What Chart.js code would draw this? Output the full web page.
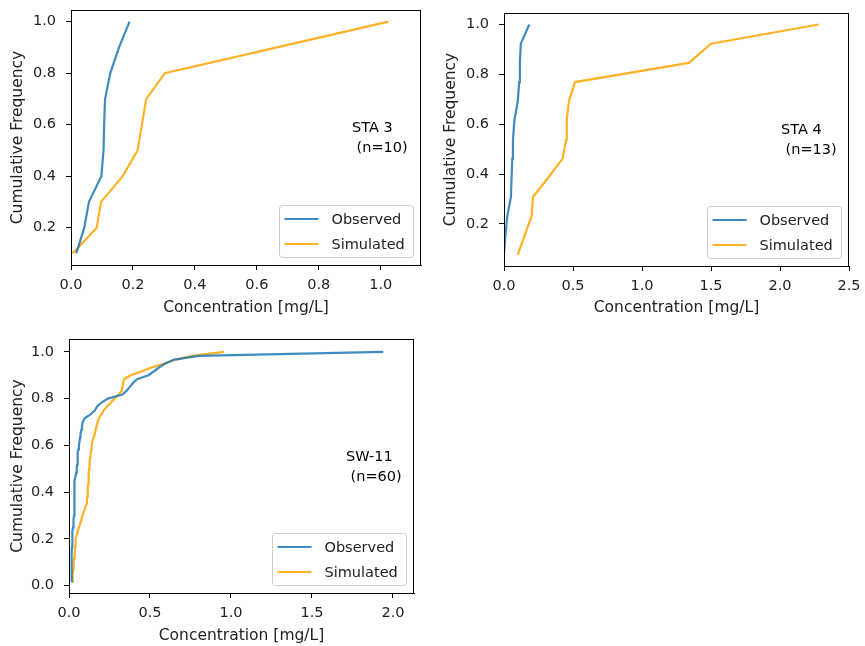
<!DOCTYPE html>
<html>
<head>
<meta charset="utf-8">
<script src="https://cdn.jsdelivr.net/npm/chart.js@4.4.1/dist/chart.umd.min.js"></script>
<style>
  body { margin: 0; background: #fff; }
  #page { position: relative; width: 865px; height: 646px; overflow: hidden; background: #fff; }
  #page canvas { position: absolute; }
</style>
</head>
<body>
<div id="page">
  <canvas id="sta3" width="440" height="320" style="left:0px;top:0px;width:440px;height:320px"></canvas>
  <canvas id="sta4" width="425" height="320" style="left:440px;top:0px;width:425px;height:320px"></canvas>
  <canvas id="sw11" width="440" height="321" style="left:0px;top:325px;width:440px;height:321px"></canvas>
</div>
<script>
// STA 3 (n=10)
const sta3Freq = [0.1, 0.2, 0.3, 0.4, 0.5, 0.6, 0.7, 0.8, 0.9, 1.0];
const sta3Observed = [0.017, 0.043, 0.058, 0.098, 0.105, 0.107, 0.11, 0.127, 0.155, 0.189];
const sta3Simulated = [0.005, 0.083, 0.097, 0.167, 0.215, 0.229, 0.243, 0.303, 0.665, 1.025];

// STA 4 (n=13)
const sta4Freq = [0.077, 0.154, 0.231, 0.308, 0.385, 0.462, 0.538, 0.615, 0.692, 0.769, 0.846, 0.923, 1.0];
const sta4Observed = [0.0, 0.01, 0.024, 0.05, 0.055, 0.06, 0.065, 0.075, 0.1, 0.11, 0.115, 0.122, 0.183];
const sta4Simulated = [0.1, 0.15, 0.2, 0.21, 0.32, 0.425, 0.45, 0.455, 0.47, 0.515, 1.34, 1.5, 2.28];

// SW-11 (n=60)
const sw11Freq = [0.017, 0.033, 0.05, 0.067, 0.083, 0.1, 0.117, 0.133, 0.15, 0.167,
  0.183, 0.2, 0.217, 0.233, 0.25, 0.267, 0.283, 0.3, 0.317, 0.333,
  0.35, 0.367, 0.383, 0.4, 0.417, 0.433, 0.45, 0.467, 0.483, 0.5,
  0.517, 0.533, 0.55, 0.567, 0.583, 0.6, 0.617, 0.633, 0.65, 0.667,
  0.683, 0.7, 0.717, 0.733, 0.75, 0.767, 0.783, 0.8, 0.817, 0.833,
  0.85, 0.867, 0.883, 0.9, 0.917, 0.933, 0.95, 0.967, 0.983, 1.0];
const sw11Observed = [0.014, 0.015, 0.015, 0.016, 0.016, 0.017, 0.017, 0.018, 0.018, 0.019,
  0.019, 0.02, 0.021, 0.023, 0.025, 0.027, 0.029, 0.031, 0.032, 0.032,
  0.033, 0.033, 0.034, 0.034, 0.035, 0.035, 0.036, 0.04, 0.045, 0.048,
  0.05, 0.052, 0.053, 0.055, 0.057, 0.061, 0.065, 0.068, 0.071, 0.077,
  0.08, 0.085, 0.098, 0.135, 0.16, 0.175, 0.2, 0.24, 0.33, 0.355,
  0.375, 0.395, 0.42, 0.49, 0.525, 0.555, 0.595, 0.65, 0.8, 1.94];
const sw11Simulated = [0.02, 0.022, 0.024, 0.026, 0.028, 0.03, 0.032, 0.034, 0.036, 0.038,
  0.04, 0.042, 0.048, 0.055, 0.062, 0.07, 0.077, 0.083, 0.093, 0.1,
  0.108, 0.111, 0.113, 0.115, 0.117, 0.118, 0.12, 0.122, 0.123, 0.124,
  0.126, 0.128, 0.131, 0.134, 0.137, 0.14, 0.145, 0.152, 0.16, 0.165,
  0.17, 0.178, 0.186, 0.2, 0.215, 0.235, 0.26, 0.28, 0.305, 0.325,
  0.33, 0.335, 0.34, 0.38, 0.45, 0.51, 0.59, 0.66, 0.76, 0.957];

// tick labels
const xTicksSta3 = [0, 0.2, 0.4, 0.6, 0.8, 1.0];
const xTicksSta4 = [0, 0.5, 1.0, 1.5, 2.0, 2.5];
const xTicksSw11 = [0, 0.5, 1.0, 1.5, 2.0];
const yTicksFrom02 = [0.2, 0.4, 0.6, 0.8, 1.0];
const yTicksFrom00 = [0.0, 0.2, 0.4, 0.6, 0.8, 1.0];

const seriesNames = ['Observed', 'Simulated'];
const seriesColors = ['rgba(31,119,180,0.85)', 'rgba(255,165,0,0.85)'];

const FONT = 'DejaVu Sans';

// frame, station label and legend drawn on top of the plot
const decorPlugin = {
    id: 'decor',
    afterDraw(chart, args, opts) {
        const { ctx, chartArea: a } = chart;
        ctx.save();
        ctx.strokeStyle = '#000';
        ctx.lineWidth = 1;
        ctx.strokeRect(a.left + 0.5, a.top + 0.5, a.right - a.left - 1, a.bottom - a.top);

        // station label
        ctx.font = '14.5px "' + FONT + '"';
        ctx.fillStyle = '#000';
        ctx.textAlign = 'left';
        ctx.textBaseline = 'middle';
        const tx = a.left + 0.8 * (a.right - a.left) + 1;
        const ty = a.bottom - 0.535 * (a.bottom - a.top);
        opts.station.forEach((t, i) => ctx.fillText(t, tx, ty + i * 20));

        // legend, lower right
        const w = 134, h = 52;
        const bx = a.right - 7.5 - w, by = a.bottom - 7.5 - h;
        ctx.beginPath();
        ctx.roundRect(bx, by, w, h, 3);
        ctx.fillStyle = 'rgba(255,255,255,0.8)';
        ctx.fill();
        ctx.strokeStyle = '#cccccc';
        ctx.stroke();
        chart.data.datasets.forEach((ds, i) => {
            const y = by + 13.5 + i * 25;
            ctx.beginPath();
            ctx.moveTo(bx + 5, y);
            ctx.lineTo(bx + 39, y);
            ctx.strokeStyle = ds.borderColor;
            ctx.lineWidth = 2.2;
            ctx.stroke();
            ctx.fillStyle = '#222';
            ctx.fillText(ds.label, bx + 52, y + 1);
        });
        ctx.restore();
    }
};

function makeChart(id, p) {
    const points = vals => vals.map((v, i) => ({ x: v, y: p.freq[i] }));
    const series = [p.observed, p.simulated];
    return new Chart(document.getElementById(id), {
        type: 'scatter',
        data: {
            datasets: series.map((vals, i) => ({
                label: seriesNames[i],
                data: points(vals),
                showLine: true,
                borderColor: seriesColors[i],
                borderWidth: 2.2,
                pointRadius: 0,
                pointHoverRadius: 0,
                tension: 0
            }))
        },
        options: {
            responsive: false,
            animation: false,
            layout: { padding: { left: 0, right: p.padR, top: p.padT, bottom: 0 } },
            plugins: {
                legend: { display: false },
                tooltip: { enabled: false },
                decor: { station: p.station }
            },
            scales: {
                x: {
                    type: 'linear',
                    min: 0,
                    max: p.xMax,
                    afterBuildTicks: s => { s.ticks = p.xTicks.map(v => ({ value: v })); },
                    afterFit: s => {
                        s.height = p.xAxisH;
                        s.paddingLeft = 0;
                        s.paddingRight = 0;
                    },
                    ticks: {
                        color: '#222',
                        font: { family: FONT, size: 14.5 },
                        padding: 7,
                        maxRotation: 0,
                        autoSkip: false,
                        callback: v => v.toFixed(1)
                    },
                    grid: { drawOnChartArea: false, drawTicks: true, tickLength: 5, tickColor: '#000' },
                    border: { display: true, color: '#000' },
                    title: {
                        display: true,
                        text: 'Concentration [mg/L]',
                        color: '#222',
                        font: { family: FONT, size: 15.5 },
                        padding: { top: 0, bottom: p.xTitlePad }
                    }
                },
                y: {
                    type: 'linear',
                    min: p.yMin,
                    max: p.yMax,
                    afterBuildTicks: s => { s.ticks = p.yTicks.map(v => ({ value: v })); },
                    afterFit: s => {
                        s.width = p.yAxisW;
                        s.paddingTop = 0;
                        s.paddingBottom = 0;
                    },
                    ticks: {
                        color: '#222',
                        font: { family: FONT, size: 14.5 },
                        padding: 10,
                        autoSkip: false,
                        callback: v => v.toFixed(1)
                    },
                    grid: { drawOnChartArea: false, drawTicks: true, tickLength: 5, tickColor: '#000' },
                    border: { display: true, color: '#000' },
                    title: {
                        display: true,
                        text: 'Cumulative Frequency',
                        color: '#222',
                        font: { family: FONT, size: 15.5 },
                        padding: { top: p.yTitlePad, bottom: 0 }
                    }
                }
            }
        },
        plugins: [decorPlugin]
    });
}

makeChart('sta3', {
    freq: sta3Freq, observed: sta3Observed, simulated: sta3Simulated,
    station: ['STA 3', ' (n=10)'],
    xMax: 1.13, xTicks: xTicksSta3,
    yMin: 0.055, yMax: 1.045, yTicks: yTicksFrom02,
    padR: 19, padT: 10, yAxisW: 71, xAxisH: 55, xTitlePad: 3.2, yTitlePad: 8.5
});

makeChart('sta4', {
    freq: sta4Freq, observed: sta4Observed, simulated: sta4Simulated,
    station: ['STA 4', ' (n=13)'],
    xMax: 2.5, xTicks: xTicksSta4,
    yMin: 0.031, yMax: 1.046, yTicks: yTicksFrom02,
    padR: 16, padT: 13, yAxisW: 64, xAxisH: 54, xTitlePad: 2.7, yTitlePad: 1.5
});

makeChart('sw11', {
    freq: sw11Freq, observed: sw11Observed, simulated: sw11Simulated,
    station: ['SW-11', ' (n=60)'],
    xMax: 2.13, xTicks: xTicksSw11,
    yMin: -0.032, yMax: 1.055, yTicks: yTicksFrom00,
    padR: 26, padT: 14, yAxisW: 69, xAxisH: 53, xTitlePad: 0.7, yTitlePad: 8.5
});
</script>
</body>
</html>
